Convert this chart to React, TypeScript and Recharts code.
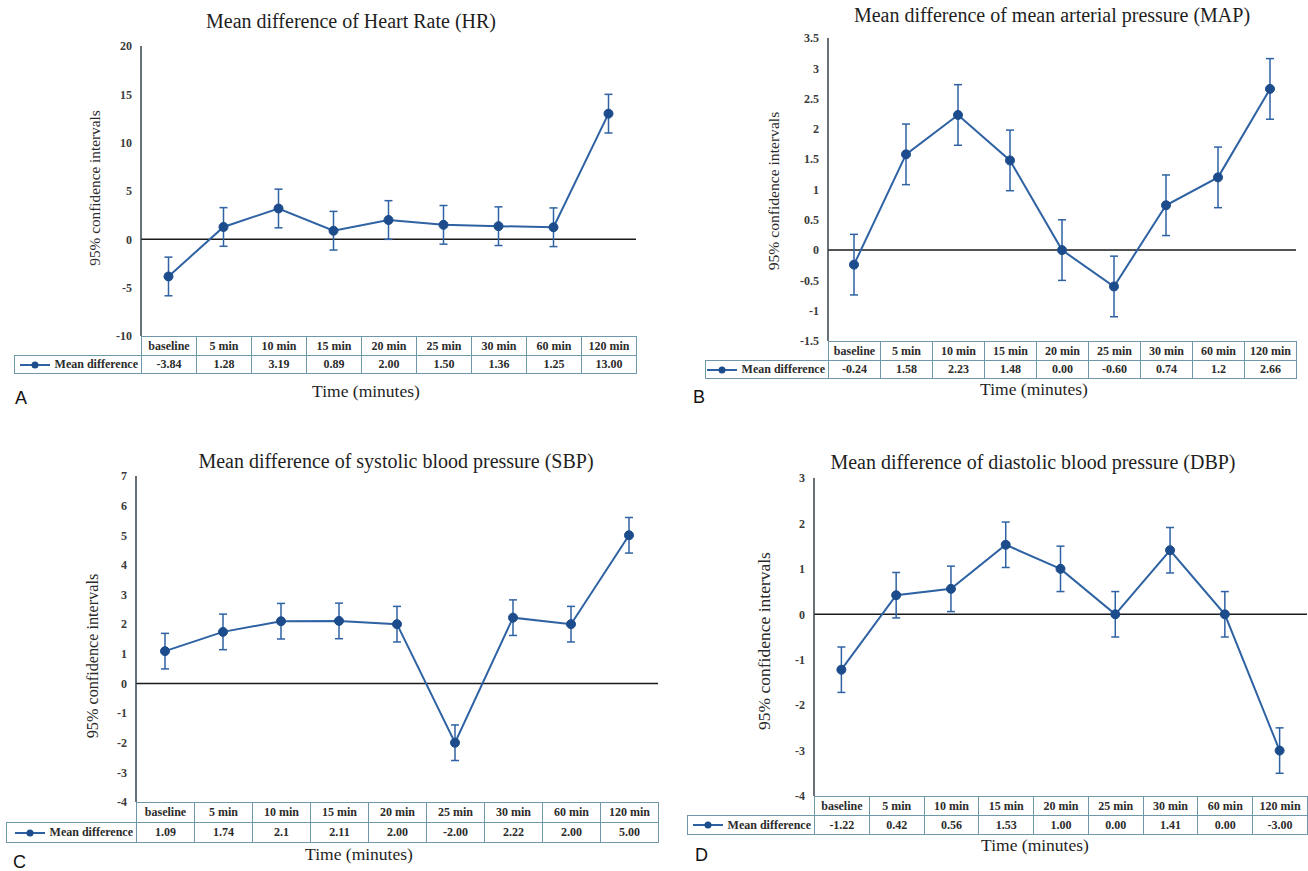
import React from 'react';
import { LineChart, Line, XAxis, YAxis, ErrorBar, ReferenceLine } from 'recharts';

// time points shared by all four panels
const categories = ['baseline', '5 min', '10 min', '15 min', '20 min', '25 min', '30 min', '60 min', '120 min'];

// table values as printed; the plotted means come from these
const hrTable = ['-3.84', '1.28', '3.19', '0.89', '2.00', '1.50', '1.36', '1.25', '13.00'];
const hrErr = [2, 2, 2, 2, 2, 2, 2, 2, 2];
const hrTicks = [-10, -5, 0, 5, 10, 15, 20];

const mapTable = ['-0.24', '1.58', '2.23', '1.48', '0.00', '-0.60', '0.74', '1.2', '2.66'];
const mapErr = [0.5, 0.5, 0.5, 0.5, 0.5, 0.5, 0.5, 0.5, 0.5];
const mapTicks = [-1.5, -1, -0.5, 0, 0.5, 1, 1.5, 2, 2.5, 3, 3.5];

const sbpTable = ['1.09', '1.74', '2.1', '2.11', '2.00', '-2.00', '2.22', '2.00', '5.00'];
const sbpErr = [0.6, 0.6, 0.6, 0.6, 0.6, 0.6, 0.6, 0.6, 0.6];
const sbpTicks = [-4, -3, -2, -1, 0, 1, 2, 3, 4, 5, 6, 7];

const dbpTable = ['-1.22', '0.42', '0.56', '1.53', '1.00', '0.00', '1.41', '0.00', '-3.00'];
const dbpErr = [0.5, 0.5, 0.5, 0.5, 0.5, 0.5, 0.5, 0.5, 0.5];
const dbpTicks = [-4, -3, -2, -1, 0, 1, 2, 3];

const SERIF = '"Liberation Serif", "Times New Roman", serif';
const LINE = '#2e62a3';
const DOT = '#1d4c8c';
const GRID = '#6f98aa';
const YW = 60;
const MT = 10;
const MB = 10;

type PanelProps = {
  title: string;
  table: string[];
  err: number[];
  ticks: number[];
  axisX: number;
  right: number;
  yTop: number;
  yBot: number;
  tableLeft: number;
  headerH: number;
  rowH: number;
  titlePos: [number, number];
  timePos: [number, number];
  letter: string;
  letterPos: [number, number];
  ylabelPos: [number, number];
  ylabelSize: number;
};

const centered = (x: number, y: number, extra: React.CSSProperties = {}): React.CSSProperties => ({
  position: 'absolute',
  left: x,
  top: y,
  transform: 'translate(-50%, -50%)',
  whiteSpace: 'nowrap',
  lineHeight: 1,
  ...extra,
});

const Panel = (p: PanelProps) => {
  const rows = categories.map((c, i) => ({ idx: i, cat: c, mean: Number(p.table[i]), err: p.err[i] }));
  const cw = (p.right - p.axisX) / categories.length;
  const cellText: React.CSSProperties = {
    fontFamily: SERIF,
    fontSize: 12,
    fontWeight: 700,
    color: '#2b2b2b',
    display: 'flex',
    alignItems: 'center',
    justifyContent: 'center',
    boxSizing: 'border-box',
    position: 'absolute',
    border: `1px solid ${GRID}`,
    whiteSpace: 'nowrap',
  };
  return (
    <>
      <div style={centered(p.titlePos[0], p.titlePos[1], { fontFamily: SERIF, fontSize: 20, color: '#1e1e1e' })}>{p.title}</div>
      <div
        style={centered(p.ylabelPos[0], p.ylabelPos[1], {
          fontFamily: SERIF,
          fontSize: p.ylabelSize,
          color: '#2a2a2a',
          transform: 'translate(-50%, -50%) rotate(-90deg)',
        })}
      >
        95% confidence intervals
      </div>
      <div style={{ position: 'absolute', left: p.axisX - YW, top: p.yTop - MT }}>
        <LineChart
          width={p.right - p.axisX + YW}
          height={p.yBot - p.yTop + MT + MB}
          data={rows}
          margin={{ top: MT, right: 0, bottom: MB, left: 0 }}
        >
          <XAxis type="number" dataKey="idx" domain={[-0.5, categories.length - 0.5]} hide />
          <YAxis
            type="number"
            domain={[p.ticks[0], p.ticks[p.ticks.length - 1]]}
            ticks={p.ticks}
            interval={0}
            width={YW}
            tickLine={false}
            tickSize={0}
            tickMargin={9}
            axisLine={{ stroke: '#33434b', strokeWidth: 1.5 }}
            tick={{ fontFamily: SERIF, fontSize: 12, fontWeight: 700, fill: '#3a3a3a' }}
          />
          <ReferenceLine y={0} stroke="#1a1a1a" strokeWidth={1.5} />
          <Line
            dataKey="mean"
            stroke={LINE}
            strokeWidth={2}
            dot={{ r: 4.5, fill: DOT, stroke: DOT, strokeWidth: 1 }}
            isAnimationActive={false}
          >
            <ErrorBar dataKey="err" direction="y" width={4} stroke={LINE} strokeWidth={1.5} />
          </Line>
        </LineChart>
      </div>
      {categories.map((c, i) => (
        <div
          key={'h' + c}
          style={{ ...cellText, left: p.axisX + i * cw, top: p.yBot, width: cw + 1, height: p.headerH + 1 }}
        >
          {c}
        </div>
      ))}
      <div
        style={{
          ...cellText,
          left: p.tableLeft,
          top: p.yBot + p.headerH,
          width: p.axisX - p.tableLeft + 1,
          height: p.rowH + 1,
          justifyContent: 'flex-end',
          paddingRight: 3,
        }}
      >
        <svg width={32} height={10} style={{ marginRight: 4 }}>
          <line x1={1} y1={5} x2={31} y2={5} stroke={LINE} strokeWidth={2} />
          <circle cx={16} cy={5} r={3.5} fill={DOT} />
        </svg>
        Mean difference
      </div>
      {p.table.map((v, i) => (
        <div
          key={'v' + i}
          style={{ ...cellText, left: p.axisX + i * cw, top: p.yBot + p.headerH, width: cw + 1, height: p.rowH + 1 }}
        >
          {v}
        </div>
      ))}
      <div style={centered(p.timePos[0], p.timePos[1], { fontFamily: SERIF, fontSize: 17.5, color: '#1e1e1e' })}>
        Time (minutes)
      </div>
      <div
        style={{
          position: 'absolute',
          left: p.letterPos[0],
          top: p.letterPos[1],
          transform: 'translateY(-50%)',
          fontFamily: '"Liberation Sans", Arial, sans-serif',
          fontSize: 18,
          lineHeight: 1,
          color: '#111',
        }}
      >
        {p.letter}
      </div>
    </>
  );
};

const App = () => (
  <div style={{ position: 'absolute', left: 0, top: 0, width: 1308, height: 871, background: '#fff', overflow: 'hidden' }}>
    <Panel
      title="Mean difference of Heart Rate (HR)"
      table={hrTable}
      err={hrErr}
      ticks={hrTicks}
      axisX={141}
      right={636}
      yTop={46}
      yBot={336}
      tableLeft={14}
      headerH={19}
      rowH={18}
      titlePos={[351, 21]}
      timePos={[366, 392]}
      letter="A"
      letterPos={[15, 398]}
      ylabelPos={[95, 188]}
      ylabelSize={15.3}
    />
    <Panel
      title="Mean difference of mean arterial pressure (MAP)"
      table={mapTable}
      err={mapErr}
      ticks={mapTicks}
      axisX={828}
      right={1296}
      yTop={38}
      yBot={341}
      tableLeft={705}
      headerH={19}
      rowH={18}
      titlePos={[1052, 15]}
      timePos={[1034, 390]}
      letter="B"
      letterPos={[693, 397]}
      ylabelPos={[774, 191]}
      ylabelSize={15.6}
    />
    <Panel
      title="Mean difference of systolic blood pressure (SBP)"
      table={sbpTable}
      err={sbpErr}
      ticks={sbpTicks}
      axisX={136}
      right={658}
      yTop={476}
      yBot={802}
      tableLeft={6}
      headerH={20}
      rowH={20}
      titlePos={[396, 461]}
      timePos={[359, 855]}
      letter="C"
      letterPos={[13, 862]}
      ylabelPos={[93, 656]}
      ylabelSize={16.2}
    />
    <Panel
      title="Mean difference of diastolic blood pressure (DBP)"
      table={dbpTable}
      err={dbpErr}
      ticks={dbpTicks}
      axisX={814}
      right={1307}
      yTop={478}
      yBot={796}
      tableLeft={687}
      headerH={19}
      rowH={19}
      titlePos={[1033, 462]}
      timePos={[1035, 846]}
      letter="D"
      letterPos={[695, 855]}
      ylabelPos={[765, 641]}
      ylabelSize={17.5}
    />
  </div>
);

export default App;
